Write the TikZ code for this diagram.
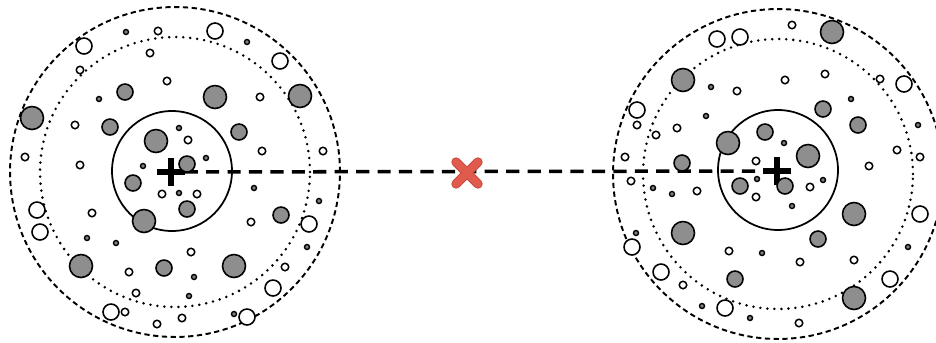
\documentclass[tikz,border=0pt]{standalone}
\usepackage{tikz}
\usetikzlibrary{shapes.misc}
\definecolor{bubblegray}{HTML}{8E8E8E}
\definecolor{markred}{HTML}{E05A4E}
\definecolor{markedge}{HTML}{C4453A}

\begin{document}
\begin{tikzpicture}[
    x=0.02cm, y=-0.02cm,
    bubble/.style={circle, draw=black, line width=0.9pt, inner sep=0pt},
    bigdot/.style={bubble, fill=bubblegray, minimum size=0.46cm},
    middot/.style={bubble, fill=bubblegray, minimum size=0.32cm},
    ring/.style={bubble, fill=white, minimum size=0.32cm},
    smallring/.style={bubble, fill=white, line width=0.85pt, minimum size=0.15cm},
    speck/.style={bubble, fill=gray, line width=0.8pt, minimum size=0.1cm},
    rim/.style={line width=1.1pt, dash pattern=on 3pt off 2pt},
    dotrim/.style={line width=1.6pt, line cap=round, dash pattern=on 0pt off 4pt},
    core/.style={line width=1pt},
    centre/.style={cross out, draw, rotate=45, line width=3.6pt, minimum size=0.26cm, inner sep=0pt},
    xmark/.style={cross out, draw=markedge, double=markred, line width=0.5pt, double distance=4.4pt,
        line cap=round, minimum size=0.42cm, inner sep=0pt},
    link/.style={line width=2pt, dash pattern=on 7.5pt off 4.7pt},
]
    \useasboundingbox (0,0) rectangle (936,342);
    \clip (0,0) rectangle (936,342);

    % rings of the two clusters
    \draw[rim] (175,172) circle[radius=3.3cm];
    \draw[dotrim] (175,172) circle[radius=2.7cm];
    \draw[core] (172,171) circle[radius=1.2cm];
    \draw[rim] (778,174) circle[radius=3.3cm];
    \draw[dotrim] (778,174) circle[radius=2.7cm];
    \draw[core] (778,170) circle[radius=1.2cm];

    % centres and the link between them
    \node[centre] (lc) at (171,172) {};
    \node[centre] (rc) at (777,171) {};
    \draw[link] (lc) -- (rc);
    \node[xmark] (mid) at (467,173) {};

    % left cluster
    \foreach \p [count=\i] in {(32,118),(156,141),(215,97),(300,96),(144,221),(81,266),(234,266)}
        \node[bigdot] (lb\i) at \p {};
    \foreach \p [count=\i] in {(125,92),(110,127),(239,132),(187,164),(133,183),(187,209),(164,268),(281,215)}
        \node[middot] (lm\i) at \p {};
    \foreach \p [count=\i] in {(84,46),(215,31),(280,61),(37,210),(40,232),(111,312),(309,224),(273,288),(247,317)}
        \node[ring] (lr\i) at \p {};
    \foreach \p [count=\i] in {(158,31),(150,53),(80,70),(167,81),(260,97),(75,125),(25,157),(80,165),
        (188,140),(262,151),(323,151),(162,194),(197,194),(92,213),(129,272),(136,293),(125,312),
        (157,324),(182,318),(251,222),(191,252),(285,267)}
        \node[smallring] (ls\i) at \p {};
    \foreach \p [count=\i] in {(126,32),(247,42),(99,99),(179,128),(143,166),(206,158),(179,193),
        (87,238),(116,243),(254,188),(319,201),(307,247),(194,277),(189,296),(234,314)}
        \node[speck] (lt\i) at \p {};

    % right cluster
    \foreach \p [count=\i] in {(832,32),(683,80),(728,143),(808,156),(683,233),(854,214),(854,298)}
        \node[bigdot] (rb\i) at \p {};
    \foreach \p [count=\i] in {(765,132),(682,163),(823,109),(858,125),(740,186),(785,186),(735,279),(818,239)}
        \node[middot] (rm\i) at \p {};
    \foreach \p [count=\i] in {(717,39),(740,37),(637,110),(904,84),(632,247),(661,272),(725,308),(920,214),(890,279)}
        \node[ring] (rr\i) at \p {};
    \foreach \p [count=\i] in {(737,91),(637,125),(677,128),(656,135),(625,157),(756,161),(792,25),
        (825,74),(785,80),(880,79),(897,150),(920,157),(869,166),(810,187),(756,197),(631,181),
        (697,191),(729,251),(683,285),(800,262),(854,260),(799,323)}
        \node[smallring] (rs\i) at \p {};
    \foreach \p [count=\i] in {(711,87),(706,116),(851,99),(918,125),(784,143),(757,179),(823,180),
        (792,206),(653,188),(672,194),(636,233),(762,253),(702,306),(750,318),(908,247)}
        \node[speck] (rt\i) at \p {};
\end{tikzpicture}
\end{document}
